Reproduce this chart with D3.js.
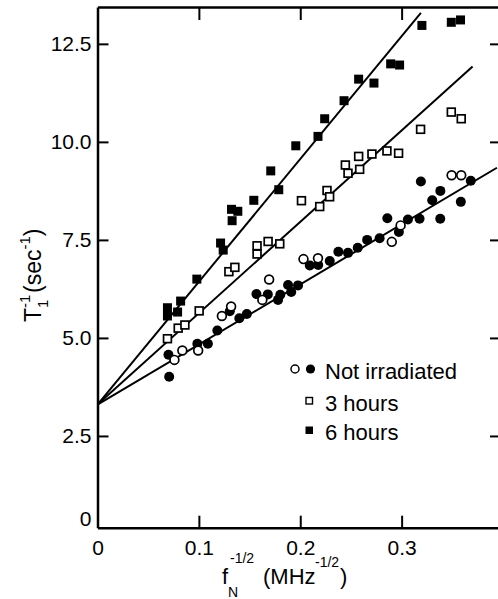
<!DOCTYPE html>
<html>
<head>
<meta charset="utf-8">
<script src="https://cdn.jsdelivr.net/npm/d3@7"></script>
<style>
body { margin: 0; background: #fff; }
svg { display: block; font-family: "Liberation Sans", Arial, sans-serif; }
</style>
</head>
<body>
<svg id="myGraph" width="498" height="599"></svg>
<script>
// data: x = f_N^-1/2 (MHz^-1/2), y = 1/T1 (sec^-1)
var niFilledX = [0.0707, 0.0700, 0.0985, 0.1089, 0.1182, 0.1305, 0.1399, 0.1473, 0.1568, 0.1680, 0.1781,
	0.1803, 0.1880, 0.1911, 0.1978, 0.2094, 0.2177, 0.2291, 0.2376, 0.2471, 0.2567, 0.2660, 0.2783,
	0.2859, 0.2973, 0.3062, 0.3177, 0.3381, 0.3302, 0.3190, 0.3382, 0.3584, 0.3682];
var niFilledY = [4.01, 4.57, 4.85, 4.85, 5.19, 5.68, 5.50, 5.61, 6.12, 6.11, 5.97,
	6.10, 6.35, 6.17, 6.34, 6.85, 6.86, 6.96, 7.20, 7.17, 7.30, 7.50, 7.54,
	8.05, 7.70, 8.02, 8.04, 8.04, 8.51, 8.99, 8.75, 8.47, 9.01];

var niOpenX = [0.0759, 0.0837, 0.0993, 0.1227, 0.1318, 0.1626, 0.1693, 0.2032, 0.2175, 0.2903, 0.2990, 0.3493, 0.3588];
var niOpenY = [4.44, 4.68, 4.68, 5.56, 5.80, 5.97, 6.49, 7.01, 7.03, 7.45, 7.87, 9.15, 9.15];

var h3X = [0.0690, 0.0796, 0.0862, 0.1003, 0.1296, 0.1355, 0.1574, 0.1574, 0.1683, 0.1798, 0.2012, 0.2192,
	0.2264, 0.2290, 0.2445, 0.2471, 0.2576, 0.2586, 0.2707, 0.2855, 0.2970, 0.3187, 0.3490, 0.3588];
var h3Y = [4.98, 5.25, 5.33, 5.69, 6.69, 6.80, 7.35, 7.14, 7.46, 7.40, 8.50, 8.35,
	8.76, 8.60, 9.41, 9.20, 9.63, 9.30, 9.69, 9.77, 9.71, 10.32, 10.76, 10.59];

var h6X = [0.0690, 0.0690, 0.0790, 0.0820, 0.0980, 0.1214, 0.1240, 0.1322, 0.1384, 0.1328, 0.1542, 0.1709,
	0.1788, 0.1956, 0.2175, 0.2241, 0.2432, 0.2576, 0.2727, 0.2892, 0.2980, 0.3200, 0.3490, 0.3581];
var h6Y = [5.77, 5.56, 5.66, 5.94, 6.50, 7.42, 7.24, 8.28, 8.23, 7.99, 8.51, 9.26,
	8.78, 9.90, 10.14, 10.59, 11.05, 11.60, 11.50, 11.99, 11.96, 12.97, 13.05, 13.11];

// fitted lines, all from the common intercept
var fitIntercept = 3.3;
var fitEndX = [0.394, 0.370, 0.319];
var fitEndY = [9.34, 11.92, 13.29];

var xTicks = [0, 0.1, 0.2, 0.3];
var yTicks = [2.5, 5.0, 7.5, 10.0, 12.5];
var legendLabels = ["Not irradiated", "3 hours", "6 hours"];

window.addEventListener("load", function(){
	var svg = d3.select("#myGraph");

	var x = d3.scaleLinear().domain([0, 0.4]).range([97.5, 503]);
	var y = d3.scaleLinear().domain([0.16, 13.44]).range([527.7, 7]);

	function styleAxis(g) {
		g.attr("font-size", 21).attr("font-family", null);
		g.select(".domain").attr("stroke", "#000").attr("stroke-width", 2.5);
		g.selectAll(".tick line").attr("stroke", "#000").attr("stroke-width", 2);
		g.selectAll(".tick text").attr("fill", "#000");
	}

	//1. axes (ticks point inward)
	svg.append("g")
		.attr("transform", "translate(0," + y.range()[0] + ")")
		.call(d3.axisBottom(x).tickValues(xTicks).tickSize(-12).tickSizeOuter(0).tickPadding(12)
			.tickFormat(function(d){ return d === 0 ? "0" : d3.format(".1f")(d); }))
		.call(styleAxis);

	svg.append("g")
		.attr("transform", "translate(" + x(0) + ",0)")
		.call(d3.axisLeft(y).tickValues(yTicks).tickSize(-11).tickSizeOuter(0).tickPadding(6)
			.tickFormat(d3.format(".1f")))
		.call(styleAxis);

	svg.append("g")
		.attr("transform", "translate(0," + y.range()[1] + ")")
		.call(d3.axisTop(x).tickValues([0.1, 0.2, 0.3]).tickSize(-13).tickSizeOuter(0).tickFormat(""))
		.call(styleAxis);

	svg.append("g")
		.attr("transform", "translate(" + x.range()[1] + ",0)")
		.call(d3.axisRight(y).tickValues(yTicks).tickSize(-13).tickSizeOuter(0).tickFormat(""))
		.call(styleAxis);

	// "0" at the bottom of the y axis
	svg.append("text")
		.attr("x", x(0) - 6)
		.attr("y", y(y.domain()[0]) - 8)
		.attr("dy", "0.32em")
		.attr("text-anchor", "end")
		.attr("font-size", 21)
		.text("0");

	//2. fit lines
	var line = d3.line()
		.x(function(d){ return x(d[0]); })
		.y(function(d){ return y(d[1]); });

	svg.selectAll("path.fit")
		.data(fitEndX)
		.enter()
		.append("path")
		.attr("class", "fit")
		.attr("d", function(d, i){
			return line([[0, fitIntercept], [d, fitEndY[i]]]);
		})
		.attr("fill", "none")
		.attr("stroke", "#000")
		.attr("stroke-width", 2);

	//3. points
	function pairs(xs, ys) {
		return xs.map(function(d, i){ return [d, ys[i]]; });
	}

	svg.selectAll("circle.niFilled")
		.data(pairs(niFilledX, niFilledY))
		.enter()
		.append("circle")
		.attr("class", "niFilled")
		.attr("cx", function(d){ return x(d[0]); })
		.attr("cy", function(d){ return y(d[1]); })
		.attr("r", 5)
		.attr("fill", "#000");

	svg.selectAll("circle.niOpen")
		.data(pairs(niOpenX, niOpenY))
		.enter()
		.append("circle")
		.attr("class", "niOpen")
		.attr("cx", function(d){ return x(d[0]); })
		.attr("cy", function(d){ return y(d[1]); })
		.attr("r", 4.4)
		.attr("fill", "#fff")
		.attr("stroke", "#000")
		.attr("stroke-width", 1.7);

	svg.selectAll("rect.h3")
		.data(pairs(h3X, h3Y))
		.enter()
		.append("rect")
		.attr("class", "h3")
		.attr("x", function(d){ return x(d[0]) - 3.9; })
		.attr("y", function(d){ return y(d[1]) - 3.9; })
		.attr("width", 7.8)
		.attr("height", 7.8)
		.attr("fill", "#fff")
		.attr("stroke", "#000")
		.attr("stroke-width", 1.7);

	svg.selectAll("rect.h6")
		.data(pairs(h6X, h6Y))
		.enter()
		.append("rect")
		.attr("class", "h6")
		.attr("x", function(d){ return x(d[0]) - 4.5; })
		.attr("y", function(d){ return y(d[1]) - 4.5; })
		.attr("width", 9)
		.attr("height", 9)
		.attr("fill", "#000");

	//4. legend
	var lg = svg.append("g").attr("font-size", 22);
	lg.append("circle").attr("cx", 295).attr("cy", 369).attr("r", 4)
		.attr("fill", "#fff").attr("stroke", "#000").attr("stroke-width", 1.5);
	lg.append("circle").attr("cx", 310.5).attr("cy", 369).attr("r", 4.6).attr("fill", "#000");
	lg.append("rect").attr("x", 306).attr("y", 397.5).attr("width", 6.5).attr("height", 6.5)
		.attr("fill", "#fff").attr("stroke", "#000").attr("stroke-width", 1.4);
	lg.append("rect").attr("x", 305.5).attr("y", 426.5).attr("width", 7.5).attr("height", 7.5).attr("fill", "#000");
	lg.selectAll("text")
		.data(legendLabels)
		.enter()
		.append("text")
		.attr("x", 325)
		.attr("y", function(d, i){ return [379, 410.5, 440][i]; })
		.text(function(d){ return d; });

	//5. axis titles
	var xt = svg.append("text").attr("font-size", 22);
	xt.append("tspan").attr("x", 222).attr("y", 584).text("f");
	xt.append("tspan").attr("x", 228).attr("y", 597).attr("font-size", 14).text("N");
	xt.append("tspan").attr("x", 230).attr("y", 563).attr("font-size", 14).text("-1/2");
	xt.append("tspan").attr("x", 263).attr("y", 584).text("(MHz");
	xt.append("tspan").attr("x", 315).attr("y", 567).attr("font-size", 14).text("-1/2");
	xt.append("tspan").attr("x", 340).attr("y", 584).text(")");

	var yt = svg.append("text")
		.attr("transform", "rotate(-90)")
		.attr("font-size", 23);
	yt.append("tspan").attr("x", -322).attr("y", 41).text("T");
	yt.append("tspan").attr("x", -308).attr("y", 48).attr("font-size", 15).text("1");
	yt.append("tspan").attr("x", -308).attr("y", 30).attr("font-size", 15).text("-1");
	yt.append("tspan").attr("x", -293).attr("y", 41).text("(sec");
	yt.append("tspan").attr("dy", -11).attr("font-size", 15).text("-1");
	yt.append("tspan").attr("dy", 11).text(")");
}, false);
</script>
</body>
</html>
